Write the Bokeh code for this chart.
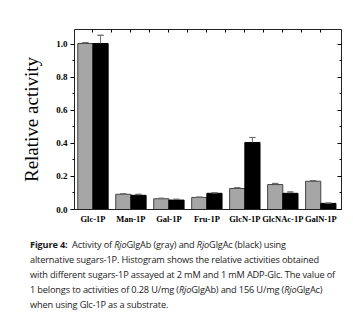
from bokeh.plotting import figure
from bokeh.models import Range1d, FixedTicker, LinearAxis, Div, ColumnDataSource
from bokeh.layouts import column
from bokeh.embed import file_html
from bokeh.resources import INLINE

categories = ["Glc-1P", "Man-1P", "Gal-1P", "Fru-1P", "GlcN-1P", "GlcNAc-1P", "GalN-1P"]
glgab = [1.005, 0.092, 0.065, 0.073, 0.127, 0.151, 0.171]
glgab_err = [0.006, 0.003, 0.003, 0.002, 0.005, 0.007, 0.004]
glgac = [1.005, 0.086, 0.057, 0.098, 0.406, 0.098, 0.037]
glgac_err = [0.050, 0.006, 0.005, 0.003, 0.030, 0.008, 0.002]
y_ticks = [0.0, 0.2, 0.4, 0.6, 0.8, 1.0]
y_minor = [0.1, 0.3, 0.5, 0.7, 0.9]

idx = list(range(len(categories)))
xa = [i - 0.2 for i in idx]
xb = [i + 0.2 for i in idx]

p = figure(width=353, height=226, output_backend="svg", toolbar_location=None,
           x_range=Range1d(-0.486, 6.546), y_range=Range1d(0, 1.09),
           min_border_left=74, min_border_right=12, min_border_top=29, min_border_bottom=17)
p.xgrid.visible = False
p.ygrid.visible = False
p.outline_line_color = None
p.background_fill_color = "white"
p.border_fill_color = "white"

src_a = ColumnDataSource(dict(x=xa, top=glgab, hi=[v + e for v, e in zip(glgab, glgab_err)]))
src_b = ColumnDataSource(dict(x=xb, top=glgac, hi=[v + e for v, e in zip(glgac, glgac_err)]))

p.vbar(x="x", top="top", bottom=0, width=0.4, source=src_a,
       fill_color="#a6a6a6", line_color="#444444", line_width=1)
p.vbar(x="x", top="top", bottom=0, width=0.4, source=src_b,
       fill_color="black", line_color="black", line_width=1)

for src in (src_a, src_b):
    p.segment(x0="x", y0="top", x1="x", y1="hi", source=src, line_color="#6e6e6e", line_width=1)
    p.rect(x="x", y="hi", width=6, height=0.001, width_units="screen", source=src,
           fill_color=None, line_color="#6e6e6e", line_width=1)

# bottom axis
xax = p.xaxis[0]
xax.ticker = FixedTicker(ticks=idx)
xax.major_label_overrides = {i: c for i, c in zip(idx, categories)}
xax.major_tick_out = 0
xax.major_tick_in = 0
xax.minor_tick_out = 0
xax.minor_tick_in = 0
xax.major_label_standoff = 4
xax.major_label_text_font = "Liberation Serif"
xax.major_label_text_font_style = "bold"
xax.major_label_text_font_size = "8.5px"
xax.major_label_text_color = "black"
xax.axis_line_color = "#222222"

# left axis
yax = p.yaxis[0]
yax.ticker = FixedTicker(ticks=y_ticks, minor_ticks=y_minor)
yax.major_label_overrides = {t: f"{t:.1f}" for t in y_ticks}
yax.major_tick_out = 4
yax.major_tick_in = 0
yax.minor_tick_out = 2
yax.minor_tick_in = 0
yax.major_label_standoff = 3
yax.major_label_text_font = "Liberation Serif"
yax.major_label_text_font_style = "bold"
yax.major_label_text_font_size = "9px"
yax.major_label_text_color = "black"
yax.axis_label = "Relative activity"
yax.axis_label_text_font = "Liberation Serif"
yax.axis_label_text_font_style = "normal"
yax.axis_label_text_font_size = "19px"
yax.axis_label_text_color = "black"
yax.axis_label_standoff = 11
yax.axis_line_color = "#222222"

# right axis (ticks only, labels not drawn)
rax = LinearAxis(ticker=FixedTicker(ticks=y_ticks, minor_ticks=y_minor))
rax.major_tick_in = 4
rax.major_tick_out = 0
rax.minor_tick_in = 2
rax.minor_tick_out = 0
rax.major_label_text_font_size = "1px"
rax.major_label_text_color = None
rax.major_label_standoff = 0
rax.axis_line_color = "#222222"
p.add_layout(rax, "right")

# top axis (ticks only, labels not drawn)
tax = LinearAxis(ticker=FixedTicker(ticks=[i * 0.5 for i in range(13)], minor_ticks=[]))
tax.major_tick_in = 3
tax.major_tick_out = 0
tax.minor_tick_in = 0
tax.minor_tick_out = 0
tax.major_label_text_font_size = "1px"
tax.major_label_text_color = None
tax.major_label_standoff = 0
tax.axis_line_color = "#222222"
p.add_layout(tax, "above")

caption_html = (
    '<div style="font-family:\'Open Sans\';font-size:9.2px;line-height:15px;color:#1a1a1a;'
    'white-space:nowrap;padding:11px 0 0 30px;letter-spacing:-0.15px;">'
    '<b>Figure 4:</b>&nbsp; Activity of <i>Rjo</i>GlgAb (gray) and <i>Rjo</i>GlgAc (black) using<br>'
    'alternative sugars-1P. Histogram shows the relative activities obtained<br>'
    'with different sugars-1P assayed at 2 mM and 1 mM ADP-Glc. The value of<br>'
    '1 belongs to activities of 0.28 U/mg (<i>Rjo</i>GlgAb) and 156 U/mg (<i>Rjo</i>GlgAc)<br>'
    'when using Glc-1P as a substrate.'
    '</div>'
)
div = Div(text=caption_html, width=353, height=100, margin=(0, 0, 0, 0))

layout = column(p, div, spacing=0, margin=(0, 0, 0, 0))
open("out.html", "w").write(file_html(layout, INLINE))
